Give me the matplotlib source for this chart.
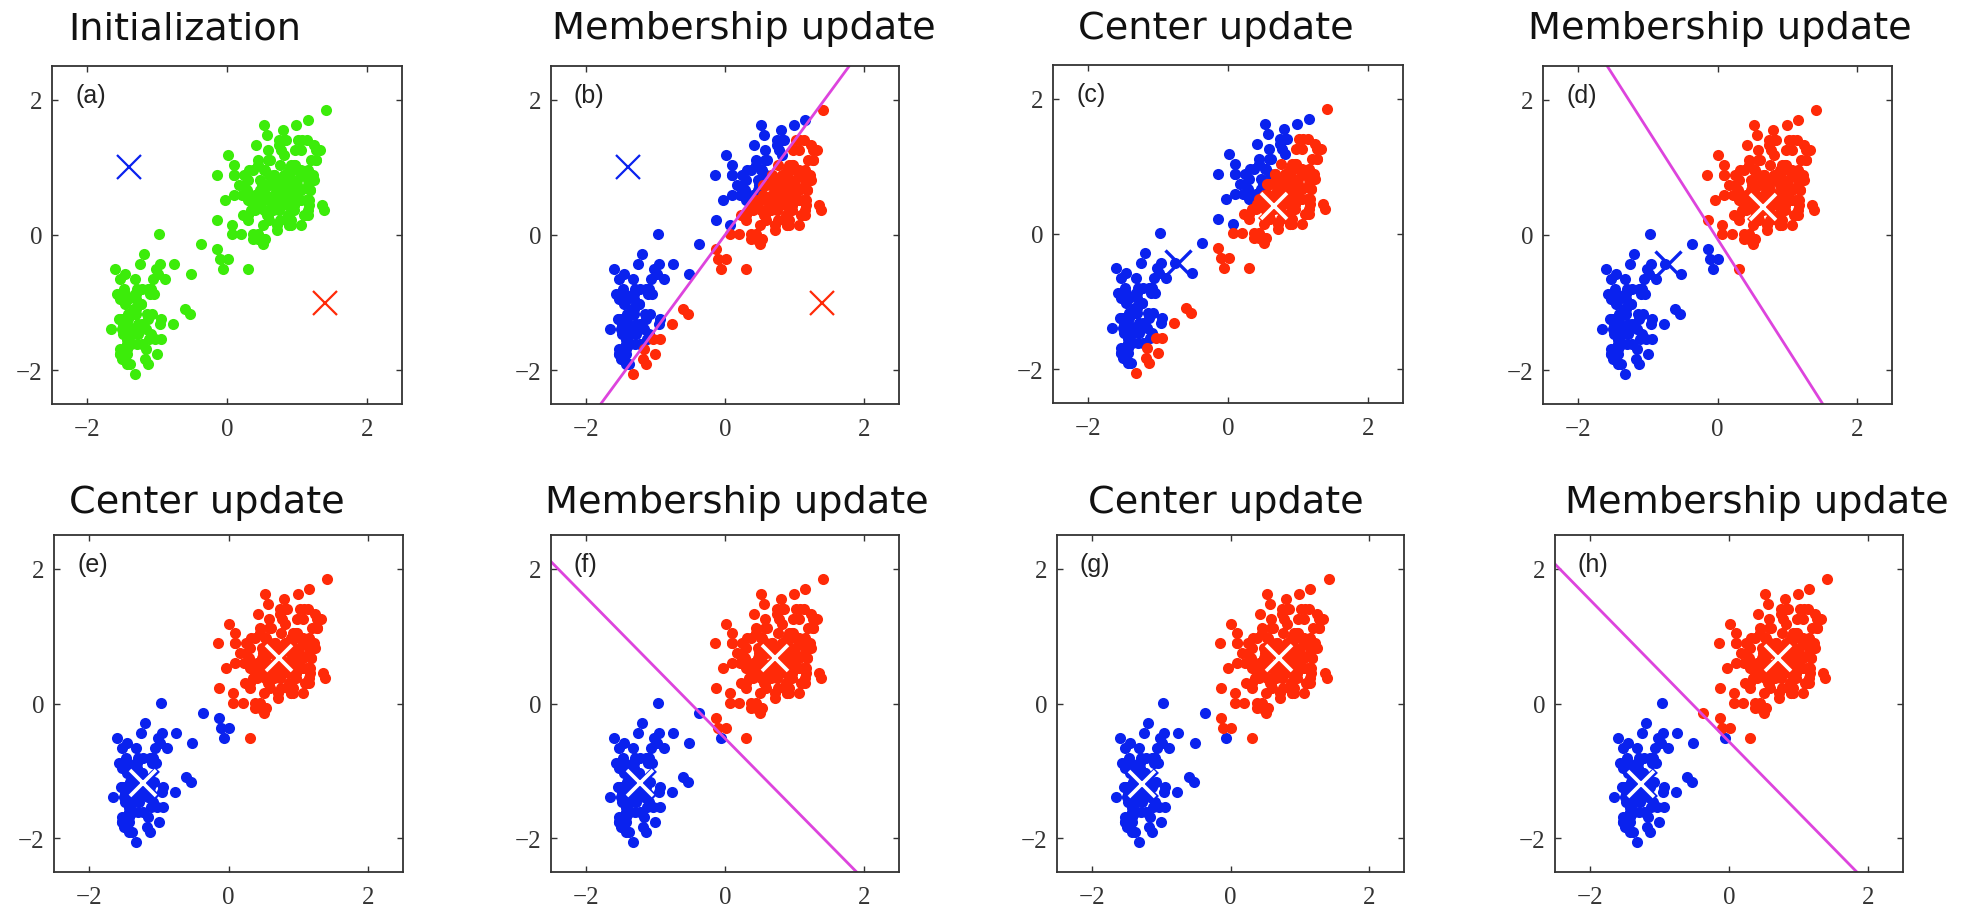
import numpy as np
import matplotlib
matplotlib.use('Agg')
import matplotlib.pyplot as plt

# Old Faithful geyser data: eruption length (min) and waiting time (min)
eruptions = [3.600, 1.800, 3.333, 2.283, 4.533, 2.883, 4.700, 3.600, 1.950, 4.350,
             1.833, 3.917, 4.200, 1.750, 4.700, 2.167, 1.750, 4.800, 1.600, 4.250,
             1.800, 1.750, 3.450, 3.067, 4.533, 3.600, 1.967, 4.083, 3.850, 4.433,
             4.300, 4.467, 3.367, 4.033, 3.833, 2.017, 1.867, 4.833, 1.833, 4.783,
             4.350, 1.883, 4.567, 1.750, 4.533, 3.317, 3.833, 2.100, 4.633, 2.000,
             4.800, 4.716, 1.833, 4.833, 1.733, 4.883, 3.717, 1.667, 4.567, 4.317,
             2.233, 4.500, 1.750, 4.800, 1.817, 4.400, 4.167, 4.700, 2.067, 4.700,
             4.033, 1.967, 4.500, 4.000, 1.983, 5.067, 2.017, 4.567, 3.883, 3.600,
             4.133, 4.333, 4.100, 2.633, 4.067, 4.933, 3.950, 4.517, 2.167, 4.000,
             2.200, 4.333, 1.867, 4.817, 1.833, 4.300, 4.667, 3.750, 1.867, 4.900,
             2.483, 4.367, 2.100, 4.500, 4.050, 1.867, 4.700, 1.783, 4.850, 3.683,
             4.733, 2.300, 4.900, 4.417, 1.700, 4.633, 2.317, 4.600, 1.817, 4.417,
             2.617, 4.067, 4.250, 1.967, 4.600, 3.767, 1.917, 4.500, 2.267, 4.650,
             1.867, 4.167, 2.800, 4.333, 1.833, 4.383, 1.883, 4.933, 2.033, 3.733,
             4.233, 2.233, 4.533, 4.817, 4.333, 1.983, 4.633, 2.017, 5.100, 1.800,
             5.033, 4.000, 2.400, 4.600, 3.567, 4.000, 4.500, 4.083, 1.800, 3.967,
             2.200, 4.150, 2.000, 3.833, 3.500, 4.583, 2.367, 5.000, 1.933, 4.617,
             1.917, 2.083, 4.583, 3.333, 4.167, 4.333, 4.500, 2.417, 4.000, 4.167,
             1.883, 4.583, 4.250, 3.767, 2.033, 4.433, 4.083, 1.833, 4.417, 2.183,
             4.800, 1.833, 4.800, 4.100, 3.966, 4.233, 3.500, 4.366, 2.250, 4.667,
             2.100, 4.350, 4.133, 1.867, 4.600, 1.783, 4.367, 3.850, 1.933, 4.500,
             2.383, 4.700, 1.867, 3.833, 3.417, 4.233, 2.400, 4.800, 2.000, 4.150,
             1.867, 4.267, 1.750, 4.483, 4.000, 4.117, 4.083, 4.267, 3.917, 4.550,
             4.083, 2.417, 4.183, 2.217, 4.450, 1.883, 1.850, 4.283, 3.950, 2.333,
             4.150, 2.350, 4.933, 2.900, 4.583, 3.833, 2.083, 4.367, 2.133, 4.350,
             2.200, 4.450, 3.567, 4.500, 4.150, 3.817, 3.917, 4.450, 2.000, 4.283,
             4.767, 4.533, 1.850, 4.250, 1.983, 2.250, 4.750, 4.117, 2.150, 4.417,
             1.817, 4.467]
waiting = [79, 54, 74, 62, 85, 55, 88, 85, 51, 85, 54, 84, 78, 47, 83, 52, 62, 84, 52, 79,
           51, 47, 78, 69, 74, 83, 55, 76, 78, 79, 73, 77, 66, 80, 74, 52, 48, 80, 59, 90,
           80, 58, 84, 58, 73, 83, 64, 53, 82, 59, 75, 90, 54, 80, 54, 83, 71, 64, 77, 81,
           59, 84, 48, 82, 60, 92, 78, 78, 65, 73, 82, 56, 79, 71, 62, 76, 60, 78, 76, 83,
           75, 82, 70, 65, 73, 88, 76, 80, 48, 86, 60, 90, 50, 78, 63, 72, 84, 75, 51, 82,
           62, 88, 49, 83, 81, 47, 84, 52, 86, 81, 75, 59, 89, 79, 59, 81, 50, 85, 59, 87,
           53, 69, 77, 56, 88, 81, 45, 82, 55, 90, 45, 83, 56, 89, 46, 82, 51, 86, 53, 79,
           81, 60, 82, 77, 76, 59, 80, 49, 96, 53, 77, 77, 65, 81, 71, 70, 81, 93, 53, 89,
           45, 86, 58, 78, 66, 76, 63, 88, 52, 93, 49, 57, 77, 68, 81, 81, 73, 50, 85, 74,
           55, 77, 83, 83, 51, 78, 84, 46, 83, 55, 81, 57, 76, 84, 77, 81, 87, 77, 51, 78,
           60, 82, 91, 53, 78, 46, 77, 84, 49, 83, 71, 80, 49, 75, 64, 76, 53, 94, 55, 76,
           50, 82, 54, 75, 78, 79, 78, 78, 70, 79, 70, 54, 86, 50, 90, 54, 54, 77, 79, 64,
           75, 47, 86, 63, 85, 82, 57, 82, 67, 74, 54, 83, 73, 73, 88, 80, 71, 83, 56, 79,
           78, 84, 58, 83, 43, 60, 75, 81, 46, 90, 46, 74]

# cluster centres (blue, red)
centers_init = [(-1.40, 1.00), (1.40, -1.00)]
centers_c = [(-0.71, -0.43), (0.65, 0.41)]
centers_e = [(-1.22, -1.18), (0.72, 0.67)]
centers_g = [(-1.27, -1.20), (0.70, 0.67)]

panel_labels = ['(a)', '(b)', '(c)', '(d)', '(e)', '(f)', '(g)', '(h)']
titles = ['Initialization', 'Membership update', 'Center update', 'Membership update',
          'Center update', 'Membership update', 'Center update', 'Membership update']
shown_centers = [centers_init, centers_init, centers_c, centers_c,
                 centers_e, centers_e, centers_g, centers_g]
member_centers = [None, centers_init, centers_init, centers_c,
                  centers_c, centers_e, centers_e, centers_g]
show_boundary = [False, True, False, True, False, True, False, True]

# standardise both variables to zero mean, unit variance
erup = np.array(eruptions)
wait = np.array(waiting, dtype=float)
xs = (erup - erup.mean()) / erup.std()
ys = (wait - wait.mean()) / wait.std()

GREEN = '#3cec0a'
BLUE = '#0a22ee'
RED = '#ff2a08'
MAGENTA = '#dd44dd'
W, H = 1967, 912

fig = plt.figure(figsize=(W / 100, H / 100), dpi=100)

# pixel layout: axes (left, top, right, bottom) and title (left, baseline)
axes_px = [(52, 67, 402, 405), (551, 67, 899, 405), (1053, 66, 1403, 404), (1543, 67, 1892, 405),
           (54, 536, 403, 873), (551, 536, 899, 873), (1057, 536, 1404, 873), (1555, 536, 1903, 873)]
title_px = [(68, 39), (552, 39), (1078, 39), (1528, 39),
            (69, 513), (545, 513), (1088, 513), (1565, 513)]


def draw_center(ax, c, color, style):
    if style == 'thin':
        ax.plot(c[0], c[1], 'x', color=color, markersize=17, markeredgewidth=1.6)
    elif style == 'solid':
        ax.plot(c[0], c[1], 'x', color=color, markersize=19, markeredgewidth=2.4)
    else:
        ax.plot(c[0], c[1], 'x', color=color, markersize=20, markeredgewidth=5.0)
        ax.plot(c[0], c[1], 'x', color='white', markersize=18.5, markeredgewidth=2.6)


for i in range(8):
    l, t, r, b = axes_px[i]
    ax = fig.add_axes([l / W, 1 - b / H, (r - l) / W, (b - t) / H])

    if member_centers[i] is None:
        ax.plot(xs, ys, 'o', color=GREEN, markersize=8, markeredgewidth=0)
    else:
        mc = np.array(member_centers[i])
        d0 = (xs - mc[0, 0]) ** 2 + (ys - mc[0, 1]) ** 2
        d1 = (xs - mc[1, 0]) ** 2 + (ys - mc[1, 1]) ** 2
        is_blue = d0 < d1
        ax.plot(xs[is_blue], ys[is_blue], 'o', color=BLUE, markersize=8, markeredgewidth=0)
        ax.plot(xs[~is_blue], ys[~is_blue], 'o', color=RED, markersize=8, markeredgewidth=0)

    if show_boundary[i]:
        # perpendicular bisector of the two centres
        mc = np.array(member_centers[i])
        mid = mc.mean(axis=0)
        diff = mc[1] - mc[0]
        direc = np.array([-diff[1], diff[0]])
        tt = np.array([-10, 10])
        ax.plot(mid[0] + tt * direc[0], mid[1] + tt * direc[1], color=MAGENTA, lw=2)

    cs = shown_centers[i]
    if i < 2:
        draw_center(ax, cs[0], BLUE, 'thin')
        draw_center(ax, cs[1], RED, 'thin')
    elif i < 4:
        draw_center(ax, cs[0], BLUE, 'solid')
        draw_center(ax, cs[1], RED, 'outline')
    else:
        draw_center(ax, cs[0], BLUE, 'outline')
        draw_center(ax, cs[1], RED, 'outline')

    ax.set_xlim(-2.5, 2.5)
    ax.set_ylim(-2.5, 2.5)
    ax.set_xticks([-2, 0, 2])
    ax.set_yticks([-2, 0, 2])
    ax.tick_params(direction='in', top=True, right=True, length=4, width=1,
                   color='#333333', labelsize=18, labelcolor='#333333')
    ax.tick_params(axis='x', pad=10)
    ax.tick_params(axis='y', pad=7)
    for lab in ax.get_xticklabels() + ax.get_yticklabels():
        lab.set_family('Liberation Serif')
    for sp in ax.spines.values():
        sp.set_color('#333333')
        sp.set_linewidth(1.3)

    ax.text(0.066, 0.95, panel_labels[i], transform=ax.transAxes, va='top', ha='left',
            fontsize=18, family='Liberation Sans', color='#222222')

    tx, ty = title_px[i]
    fig.text(tx / W, 1 - ty / H, titles[i], ha='left', va='baseline',
             fontsize=27.5, family='DejaVu Sans', color='#111111')

fig.savefig('out.png', dpi=100)
